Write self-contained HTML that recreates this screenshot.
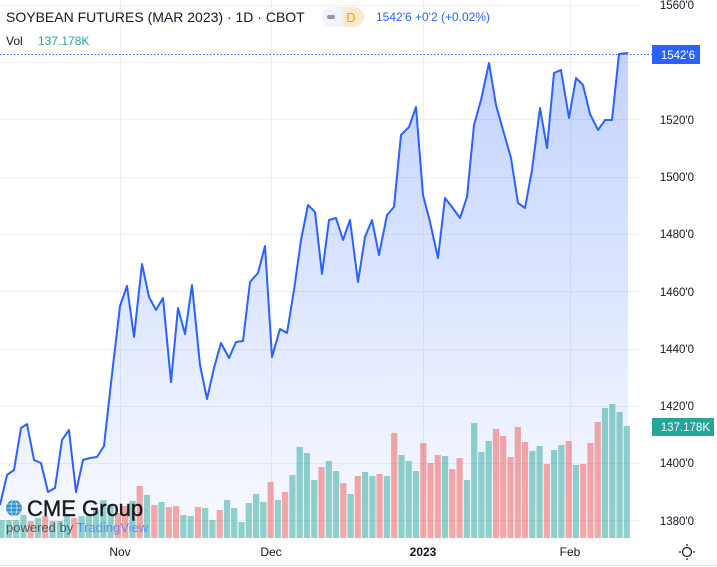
<!DOCTYPE html>
<html><head><meta charset="utf-8"><style>
html,body{margin:0;padding:0;background:#fff;width:717px;height:567px;overflow:hidden;font-family:"Liberation Sans",sans-serif}
</style></head><body>
<svg width="717" height="567" xmlns="http://www.w3.org/2000/svg" font-family="Liberation Sans, sans-serif">
<defs>
<linearGradient id="g" x1="0" y1="0" x2="0" y2="1">
<stop offset="0" stop-color="#2962ff" stop-opacity="0.28"/>
<stop offset="1" stop-color="#2962ff" stop-opacity="0.03"/>
</linearGradient>
</defs>
<g stroke="#eef0f3" stroke-width="1">
<line x1="0" y1="5.5" x2="640" y2="5.5"/><line x1="0" y1="62.5" x2="640" y2="62.5"/><line x1="0" y1="119.5" x2="640" y2="119.5"/><line x1="0" y1="177.5" x2="640" y2="177.5"/><line x1="0" y1="234.5" x2="640" y2="234.5"/><line x1="0" y1="291.5" x2="640" y2="291.5"/><line x1="0" y1="349.5" x2="640" y2="349.5"/><line x1="0" y1="406.5" x2="640" y2="406.5"/><line x1="0" y1="463.5" x2="640" y2="463.5"/><line x1="0" y1="520.5" x2="640" y2="520.5"/>
<line x1="120.5" y1="0" x2="120.5" y2="538"/><line x1="271.5" y1="0" x2="271.5" y2="538"/><line x1="423.5" y1="0" x2="423.5" y2="538"/><line x1="570.5" y1="0" x2="570.5" y2="538"/>
</g>
<path d="M0,505 L7,475 L14,470 L21,428 L27,424 L34,460 L41,463 L48,492 L55,488 L62,440 L69,430 L76,492 L83,460 L90,458 L97,457 L104,446 L111,383 L120,306 L127,286 L134,337 L142,264 L149,297 L156,310 L163,298 L171,382 L178,308 L185,334 L192,285 L200,365 L207,399 L214,368 L221,343 L229,358 L236,342 L243,341 L250,282 L258,273 L265,246 L272,357 L280,329 L287,333 L294,290 L301,240 L308,205 L315,212 L322,274 L329,220 L336,218 L343,240 L350,220 L358,282 L365,237 L372,220 L379,255 L387,215 L394,207 L401,135 L409,127 L416,107 L423,195 L430,222 L438,258 L445,198 L452,207 L460,218 L467,197 L474,125 L481,100 L489,63 L496,105 L503,130 L511,158 L518,203 L525,208 L532,170 L540,108 L547,148 L554,73 L561,70 L569,118 L576,78 L583,85 L590,114 L598,130 L605,120 L612,120 L619,54 L628,53 L628,538 L0,538 Z" fill="url(#g)"/>
<g id="bars"></g>
<path d="M0,505 L7,475 L14,470 L21,428 L27,424 L34,460 L41,463 L48,492 L55,488 L62,440 L69,430 L76,492 L83,460 L90,458 L97,457 L104,446 L111,383 L120,306 L127,286 L134,337 L142,264 L149,297 L156,310 L163,298 L171,382 L178,308 L185,334 L192,285 L200,365 L207,399 L214,368 L221,343 L229,358 L236,342 L243,341 L250,282 L258,273 L265,246 L272,357 L280,329 L287,333 L294,290 L301,240 L308,205 L315,212 L322,274 L329,220 L336,218 L343,240 L350,220 L358,282 L365,237 L372,220 L379,255 L387,215 L394,207 L401,135 L409,127 L416,107 L423,195 L430,222 L438,258 L445,198 L452,207 L460,218 L467,197 L474,125 L481,100 L489,63 L496,105 L503,130 L511,158 L518,203 L525,208 L532,170 L540,108 L547,148 L554,73 L561,70 L569,118 L576,78 L583,85 L590,114 L598,130 L605,120 L612,120 L619,54 L628,53" fill="none" stroke="#2962ff" stroke-width="2" stroke-linejoin="round"/>
<line x1="0" y1="54.5" x2="652" y2="54.5" stroke="#2962ff" stroke-width="1" stroke-dasharray="1.5,2"/>
<g font-size="11.5" fill="#131722" text-anchor="end">
<text x="694" y="9">1560'0</text>
<text x="694" y="124">1520'0</text>
<text x="694" y="181">1500'0</text>
<text x="694" y="238">1480'0</text>
<text x="694" y="296">1460'0</text>
<text x="694" y="353">1440'0</text>
<text x="694" y="410">1420'0</text>
<text x="694" y="467">1400'0</text>
<text x="694" y="525">1380'0</text>
</g>
<rect x="652" y="45" width="48" height="19" fill="#2962ff"/>
<text x="695" y="59" font-size="11.5" fill="#fff" text-anchor="end">1542'6</text>
<rect x="652" y="418" width="62" height="18" fill="#26a69a"/>
<text x="710" y="431" font-size="11.5" fill="#fff" text-anchor="end">137.178K</text>
<g font-size="12" fill="#131722" text-anchor="middle">
<text x="120" y="556">Nov</text><text x="271" y="556">Dec</text><text x="423" y="556" font-weight="bold">2023</text><text x="570" y="556">Feb</text>
</g>
<circle cx="687" cy="552" r="4.5" fill="none" stroke="#131722" stroke-width="1.2"/>
<g stroke="#131722" stroke-width="1.2"><line x1="687" y1="544" x2="687" y2="546"/><line x1="687" y1="558" x2="687" y2="560"/><line x1="679" y1="552" x2="681" y2="552"/><line x1="693" y1="552" x2="695" y2="552"/></g>
<line x1="0" y1="565.5" x2="717" y2="565.5" stroke="#e0e3eb"/>
<text x="6" y="22" font-size="14" fill="#131722">SOYBEAN FUTURES (MAR 2023) · 1D · CBOT</text>
<rect x="322" y="7" width="42" height="20" rx="10" fill="#f0f3fa"/>
<rect x="338" y="7" width="26" height="20" rx="10" fill="#fde9d2"/>
<rect x="335" y="7" width="8" height="20" fill="#f0f3fa"/>
<rect x="327" y="15" width="8" height="4" rx="2" fill="#9598a1"/>
<text x="351" y="22" font-size="13" fill="#ff9800" text-anchor="middle">D</text>
<text x="376" y="21" font-size="12" fill="#2962ff">1542'6  +0'2 (+0.02%)</text>
<text x="6" y="45" font-size="12" fill="#131722">Vol</text>
<text x="38" y="45" font-size="12" fill="#26a69a">137.178K</text>
<circle cx="14" cy="508" r="8" fill="#2b8fd1"/>
<g stroke="#fff" stroke-width="0.6" fill="none"><ellipse cx="14" cy="508" rx="3" ry="8"/><line x1="6" y1="508" x2="22" y2="508"/><line x1="7" y1="504" x2="21" y2="504"/><line x1="7" y1="512" x2="21" y2="512"/></g>
<text x="27" y="516" font-size="22" fill="#1a1a1a" stroke="#1a1a1a" stroke-width="0.4">CME Group</text>
<text x="6" y="532" font-size="13" fill="#555">powered by <tspan fill="#5a8ff0">TradingView</tspan></text>
</svg>
<script>
var tops=[[520,'t'],[520,'t'],[520,'t'],[515,'t'],[521,'r'],[518,'t'],[516,'r'],[521,'t'],[521,'t'],[516,'t'],[518,'r'],[516,'t'],[514,'t'],[510,'t'],[500,'t'],[505,'t'],[513,'r'],[506,'r'],[501,'t'],[486,'r'],[495,'t'],[505,'r'],[502,'t'],[507,'r'],[506,'r'],[515,'t'],[516,'t'],[507,'r'],[508,'t'],[520,'t'],[510,'r'],[500,'t'],[508,'t'],
[522,'t'],[503,'t'],[494,'t'],[502,'t'],[482,'r'],[500,'t'],[492,'r'],[475,'t'],[447,'t'],[453,'t'],[480,'t'],[467,'r'],[461,'t'],[471,'t'],[483,'r'],[494,'t'],[476,'r'],[472,'t'],[476,'t'],[474,'r'],[476,'t'],[433,'r'],[455,'t'],[461,'t'],[471,'t'],[443,'r'],[463,'r'],[455,'r'],[456,'t'],[469,'r'],[458,'r'],[480,'t'],[423,'t'],[452,'t'],[441,'t'],[429,'r'],[436,'r'],[457,'r'],[427,'r'],[442,'r'],[451,'t'],[446,'t'],[464,'r'],[450,'t'],[445,'t'],[441,'r'],[465,'t'],[464,'r'],[443,'r'],[422,'r'],[408,'t'],[404,'t'],[412,'t'],[426,'t']];
var s='',n=tops.length,w=7.27,x0=631-n*w;
for(var i=0;i<n;i++){var x=x0+i*w,t=tops[i];s+='<rect x="'+x.toFixed(1)+'" y="'+t[0]+'" width="6.2" height="'+(538-t[0])+'" fill="'+(t[1]=='t'?'#26a69a':'#ef5350')+'" fill-opacity="0.5"/>';}
document.getElementById('bars').innerHTML=s;
</script>
</body></html>
